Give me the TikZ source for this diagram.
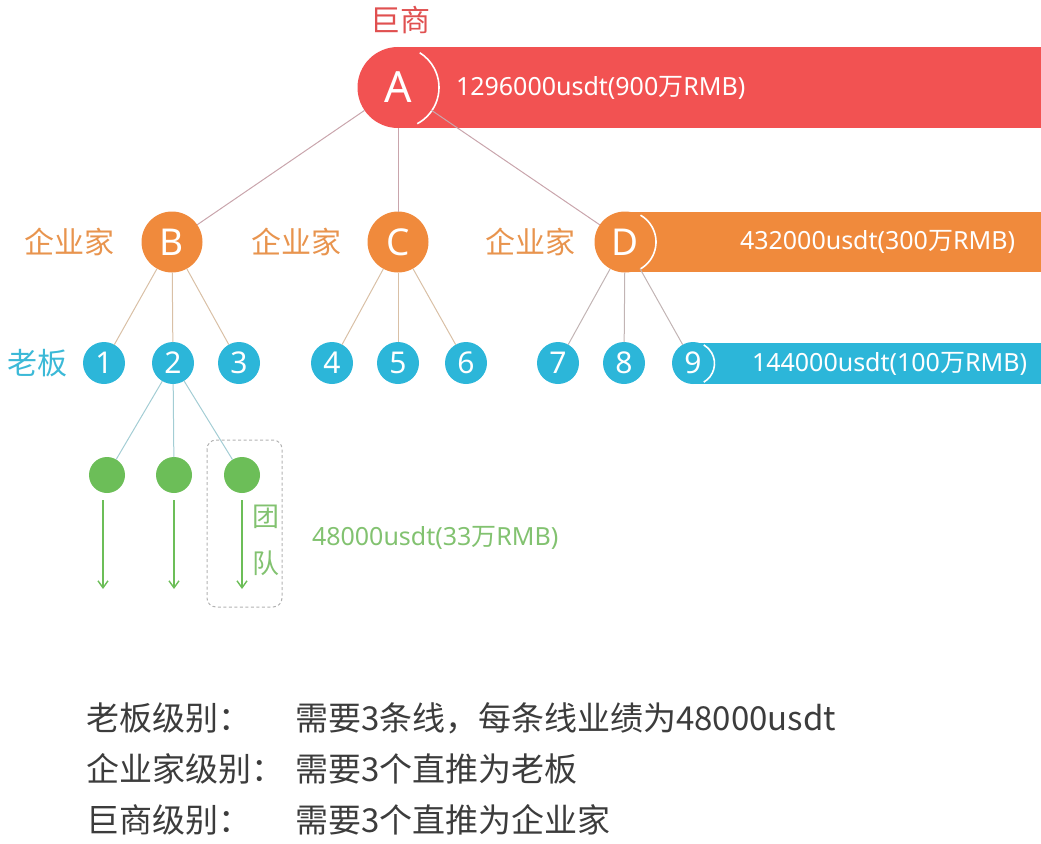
\documentclass[tikz,border=0pt]{standalone}
\usepackage{fontspec}
\setmainfont{Noto Sans CJK SC}
\newfontfamily\lat{Noto Sans}
\usetikzlibrary{arrows.meta}
\definecolor{cred}{HTML}{F25252}
\definecolor{cora}{HTML}{F08A3C}
\definecolor{cblue}{HTML}{2CB6D9}
\definecolor{cgreen}{HTML}{6CBE58}
\definecolor{tred}{HTML}{E05050}
\definecolor{tora}{HTML}{E8944E}
\definecolor{tblue}{HTML}{3BB9D7}
\definecolor{tgreen}{HTML}{82C270}
\definecolor{lred}{HTML}{C9A5AC}
\definecolor{ltan}{HTML}{D9C0A6}
\definecolor{lgrey}{HTML}{C2B4B4}
\definecolor{lblue}{HTML}{A3CDD4}
\definecolor{tdark}{HTML}{3C3C3C}
\newcommand{\fs}[1]{\fontsize{#1}{#1}\selectfont}
\newcommand{\money}[2]{{\lat #1}万{\lat RMB)}}
\tikzset{
  every node/.style={inner sep=0pt, outer sep=0pt},
  lvA/.style={circle, fill=cred, minimum size=81pt, text=white, font=\fs{43}\lat},
  lvB/.style={circle, fill=cora, minimum size=61pt, text=white, font=\fs{37}\lat},
  lvC/.style={circle, fill=cblue, minimum size=42pt, text=white, font=\fs{30}\lat},
  lvD/.style={circle, fill=cgreen, minimum size=36pt},
  bartext/.style={text=white, font=\fs{25}, anchor=west},
  lbl/.style={font=\fs{30}},
  link/.style={line width=1pt},
  downarrow/.style={draw=cgreen, line width=1.4pt, -{Straight Barb[length=7pt,width=10pt,line width=1.4pt]}},
  rule/.style={font=\fs{33}, text=tdark, anchor=west},
  whitearc/.style={draw=white, line width=1.6pt}
}
\begin{document}
\begin{tikzpicture}[x=1pt, y=-1pt]
\useasboundingbox (0,0) rectangle (1041,843);
% bars
\fill[cred] (398,47) rectangle (1041,128);
\fill[cora] (625,212) rectangle (1041,272);
\fill[cblue] (693,343) rectangle (1041,384);
% level A
\node[lvA] (A) at (398,87.5) {A};
\draw[whitearc] (398,87.5) ++(62:41) arc[start angle=62, end angle=-58, radius=41];
\node[text=tred, lbl] (tA) at (400,20) {巨商};
\node[bartext] (mA) at (456,88) {\money{1296000usdt(900}{}};
% level B
\node[lvB] (B) at (172,242) {B};
\node[lvB] (C) at (398,242) {C};
\node[lvB] (D) at (625,242) {D};
\draw[whitearc] (625,242) ++(60:31) arc[start angle=60, end angle=-60, radius=31];
\node[text=tora, lbl] (tB) at (69,242) {企业家};
\node[text=tora, lbl] (tC) at (296,242) {企业家};
\node[text=tora, lbl] (tD) at (530,242) {企业家};
\node[bartext] (mD) at (740,242) {\money{432000usdt(300}{}};
% level C
\node[lvC] (n1) at (104,363) {1};
\node[lvC] (n2) at (173,363) {2};
\node[lvC] (n3) at (239,363) {3};
\node[lvC] (n4) at (332,363) {4};
\node[lvC] (n5) at (398,363) {5};
\node[lvC] (n6) at (466,363) {6};
\node[lvC] (n7) at (558,363) {7};
\node[lvC] (n8) at (624,363) {8};
\node[lvC] (n9) at (693,363) {9};
\draw[whitearc] (693,363.5) ++(60:21.5) arc[start angle=60, end angle=-60, radius=21.5];
\node[text=tblue, lbl] (tC1) at (37,363) {老板};
\node[bartext] (m9) at (752,364) {\money{144000usdt(100}{}};
% level D
\node[lvD] (g1) at (107,475) {};
\node[lvD] (g2) at (174,475) {};
\node[lvD] (g3) at (242,475) {};
% links
\draw[link, lred] (A) -- (B);
\draw[link, lred] (A) -- (C);
\draw[link, lred] (A) -- (D);
\draw[link, ltan] (B) -- (n1);
\draw[link, ltan] (B) -- (n2);
\draw[link, ltan] (B) -- (n3);
\draw[link, ltan] (C) -- (n4);
\draw[link, ltan] (C) -- (n5);
\draw[link, ltan] (C) -- (n6);
\draw[link, lgrey] (D) -- (n7);
\draw[link, lgrey] (D) -- (n8);
\draw[link, lgrey] (D) -- (n9);
\draw[link, lblue] (n2) -- (g1);
\draw[link, lblue] (n2) -- (g2);
\draw[link, lblue] (n2) -- (g3);
% arrows
\coordinate (a1s) at (103,500); \coordinate (a1e) at (103,589);
\coordinate (a2s) at (174,500); \coordinate (a2e) at (174,589);
\coordinate (a3s) at (242,500); \coordinate (a3e) at (242,589);
\draw[downarrow] (a1s) -- (a1e);
\draw[downarrow] (a2s) -- (a2e);
\draw[downarrow] (a3s) -- (a3e);
% team box
\draw[draw=gray!60, line width=1pt, dash pattern=on 3pt off 2.5pt, rounded corners=9pt] (207,440) rectangle (282,607);
\node[text=tgreen, font=\fs{27}] (t1) at (266,517) {团};
\node[text=tgreen, font=\fs{27}] (t2) at (266,563) {队};
\node[text=tgreen, font=\fs{25}, anchor=west] (mG) at (312,538) {\money{48000usdt(33}{}};
% rules
\node[rule] (r1a) at (86,718) {老板级别：};
\node[rule] (r1b) at (295,718) {需要3条线，每条线业绩为48000usdt};
\node[rule] (r2a) at (86,769) {企业家级别：};
\node[rule] (r2b) at (295,769) {需要3个直推为老板};
\node[rule] (r3a) at (86,820) {巨商级别：};
\node[rule] (r3b) at (295,820) {需要3个直推为企业家};
\end{tikzpicture}
\end{document}
